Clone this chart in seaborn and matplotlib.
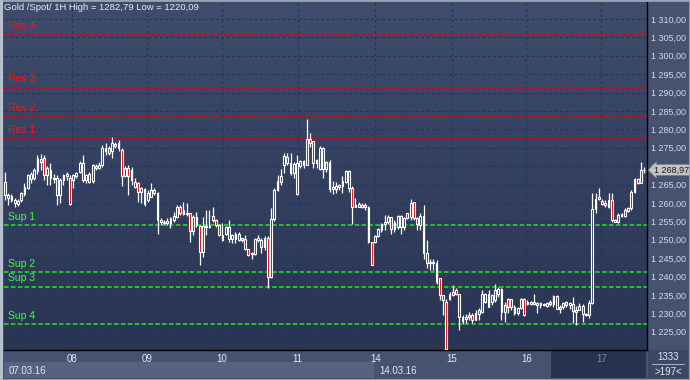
import numpy as np
import pandas as pd
import matplotlib
matplotlib.use("Agg")
import matplotlib.pyplot as plt
from matplotlib.colors import LinearSegmentedColormap
from matplotlib.patches import Rectangle
from matplotlib.ticker import FuncFormatter
import seaborn as sns

#? Hourly candles, gold spot 07.03.16 - 17.03.16
opens = [1265.8, 1261.3, 1262.0, 1260.9, 1259.6, 1260.8, 1262.4, 1264.2, 1267.8, 1266.8,
         1268.6, 1271.0, 1272.1, 1267.6, 1269.0, 1266.9, 1266.7, 1262.2, 1266.2, 1267.8,
         1266.8, 1266.3, 1267.2, 1268.5, 1270.8, 1266.2, 1268.0, 1266.0, 1269.6, 1269.6,
         1270.3, 1275.0, 1273.5, 1274.0, 1275.5, 1276.2, 1274.4, 1267.2, 1269.4, 1268.9,
         1265.8, 1265.3, 1263.1, 1263.7, 1260.8, 1261.7, 1263.5, 1262.8, 1254.9, 1254.6,
         1254.6, 1254.6, 1255.5, 1256.2, 1259.0, 1258.1, 1257.0, 1257.2, 1252.3, 1256.2,
         1253.8, 1246.8, 1253.6, 1253.6, 1256.5, 1255.4, 1254.0, 1251.3, 1251.7, 1253.6,
         1250.1, 1250.1, 1251.6, 1249.9, 1250.1, 1247.4, 1246.2, 1246.2, 1250.0, 1250.0,
         1248.0, 1250.4, 1240.0, 1255.6, 1263.6, 1265.8, 1270.3, 1272.6, 1270.8, 1268.1,
         1270.8, 1270.0, 1271.3, 1270.4, 1277.3, 1276.7, 1270.8, 1269.2, 1274.9, 1269.2,
         1271.0, 1263.8, 1263.8, 1264.9, 1264.5, 1265.6, 1264.0, 1264.0, 1259.0, 1259.0,
         1259.5, 1259.0, 1259.0, 1249.3, 1249.3, 1250.9, 1252.7, 1254.4, 1254.9, 1256.1,
         1252.8, 1253.5, 1256.4, 1253.5, 1255.8, 1256.3, 1260.3, 1255.8, 1254.0, 1256.4,
         1246.3, 1243.6, 1243.6, 1243.8, 1239.5, 1233.6, 1233.2, 1233.8, 1235.0, 1236.3,
         1235.4, 1229.1, 1228.5, 1229.1, 1229.5, 1228.3, 1229.8, 1230.4, 1233.0, 1235.4,
         1233.0, 1236.3, 1235.4, 1236.5, 1230.5, 1234.0, 1231.6, 1231.8, 1230.0, 1231.4,
         1233.8, 1233.0, 1232.6, 1232.6, 1232.9, 1232.3, 1232.3, 1232.0, 1232.6, 1232.6,
         1234.7, 1231.1, 1231.8, 1232.3, 1232.3, 1232.5, 1230.5, 1230.9, 1232.0, 1229.6,
         1229.6, 1232.7, 1258.3, 1261.0, 1260.4, 1259.9, 1259.0, 1260.8, 1255.4, 1254.7,
         1257.0, 1256.5, 1257.9, 1258.5, 1263.1, 1266.4, 1265.3, 1269.0]
highs = [1268.5, 1262.6, 1262.5, 1261.3, 1261.0, 1263.1, 1265.5, 1268.0, 1268.3, 1269.5,
         1273.0, 1273.2, 1273.0, 1270.0, 1270.8, 1267.8, 1267.6, 1266.8, 1268.0, 1268.5,
         1267.6, 1268.0, 1268.5, 1271.3, 1273.0, 1268.0, 1268.5, 1270.6, 1270.5, 1271.0,
         1275.8, 1276.2, 1275.5, 1278.0, 1276.5, 1277.0, 1274.9, 1270.0, 1270.3, 1269.9,
         1266.7, 1265.8, 1264.4, 1264.0, 1263.5, 1265.3, 1264.0, 1263.1, 1255.8, 1255.4,
         1255.8, 1256.3, 1257.6, 1259.4, 1259.4, 1260.3, 1260.0, 1257.4, 1256.8, 1257.6,
         1254.0, 1256.3, 1258.1, 1258.1, 1259.0, 1255.6, 1254.3, 1254.5, 1253.8, 1255.4,
         1251.5, 1252.2, 1252.0, 1250.6, 1251.3, 1247.6, 1246.8, 1250.6, 1251.3, 1250.4,
         1250.9, 1250.9, 1258.6, 1264.0, 1267.5, 1269.2, 1273.5, 1273.5, 1273.5, 1271.0,
         1273.0, 1271.7, 1271.7, 1282.8, 1279.1, 1276.7, 1271.9, 1275.5, 1275.3, 1271.5,
         1271.7, 1266.1, 1265.8, 1265.2, 1267.2, 1269.0, 1269.0, 1264.5, 1261.3, 1260.2,
         1260.0, 1260.0, 1259.2, 1249.5, 1251.4, 1253.3, 1254.6, 1256.7, 1256.6, 1256.3,
         1255.3, 1256.6, 1256.7, 1256.3, 1257.2, 1261.2, 1260.3, 1256.3, 1257.2, 1259.4,
         1249.9, 1244.9, 1244.9, 1244.5, 1239.5, 1235.0, 1234.0, 1235.8, 1237.7, 1236.8,
         1235.4, 1229.5, 1229.9, 1230.4, 1230.2, 1230.9, 1231.4, 1236.3, 1235.6, 1236.3,
         1235.4, 1237.9, 1237.2, 1236.8, 1233.0, 1234.1, 1234.0, 1232.3, 1231.8, 1234.1,
         1234.1, 1233.6, 1233.3, 1235.2, 1233.2, 1233.2, 1232.9, 1233.0, 1233.5, 1235.0,
         1235.0, 1232.3, 1233.2, 1233.4, 1233.2, 1234.5, 1232.0, 1232.7, 1232.5, 1230.2,
         1233.5, 1262.6, 1262.6, 1264.0, 1261.0, 1260.8, 1262.8, 1262.6, 1255.6, 1257.2,
         1257.2, 1258.5, 1258.8, 1263.4, 1266.7, 1266.7, 1271.0, 1269.7]
lows = [1260.8, 1259.5, 1260.3, 1259.0, 1259.1, 1260.3, 1262.0, 1263.8, 1265.5, 1266.2,
        1268.0, 1269.0, 1266.2, 1265.0, 1264.9, 1265.3, 1259.5, 1260.0, 1265.0, 1266.2,
        1259.4, 1264.0, 1266.8, 1268.1, 1265.8, 1265.5, 1265.3, 1265.3, 1269.0, 1269.2,
        1269.8, 1273.0, 1273.0, 1272.1, 1275.0, 1274.0, 1264.5, 1267.0, 1262.2, 1264.9,
        1264.0, 1260.3, 1259.9, 1259.2, 1260.3, 1261.5, 1262.2, 1251.7, 1254.0, 1254.2,
        1254.0, 1253.3, 1254.9, 1255.8, 1256.8, 1256.8, 1256.5, 1249.5, 1251.3, 1253.5,
        1243.2, 1245.4, 1251.3, 1253.3, 1254.9, 1253.6, 1251.0, 1249.8, 1251.3, 1249.5,
        1249.0, 1249.0, 1249.7, 1249.5, 1247.2, 1245.6, 1244.9, 1245.9, 1249.5, 1246.3,
        1247.3, 1236.8, 1239.6, 1255.2, 1263.2, 1265.0, 1268.1, 1270.4, 1267.6, 1266.7,
        1262.2, 1269.5, 1269.5, 1270.2, 1275.3, 1269.5, 1269.5, 1269.0, 1266.7, 1268.5,
        1263.1, 1262.5, 1262.7, 1263.6, 1262.7, 1265.4, 1263.1, 1254.3, 1258.8, 1258.8,
        1258.5, 1258.1, 1249.0, 1243.1, 1249.0, 1250.7, 1252.2, 1252.6, 1254.3, 1251.7,
        1252.2, 1253.0, 1251.7, 1252.6, 1255.6, 1255.3, 1255.3, 1252.6, 1252.6, 1244.9,
        1242.2, 1241.8, 1241.8, 1238.1, 1233.6, 1229.5, 1220.1, 1233.6, 1234.7, 1235.0,
        1225.6, 1227.1, 1227.3, 1228.3, 1227.5, 1228.2, 1228.2, 1230.2, 1232.8, 1231.6,
        1232.3, 1233.2, 1234.5, 1228.2, 1227.7, 1230.0, 1231.0, 1229.6, 1229.5, 1231.1,
        1229.3, 1232.2, 1232.4, 1232.4, 1230.2, 1231.4, 1232.0, 1231.7, 1232.0, 1231.8,
        1231.1, 1230.0, 1231.1, 1231.8, 1231.1, 1227.3, 1226.8, 1230.9, 1227.7, 1229.3,
        1228.7, 1232.5, 1257.2, 1260.8, 1259.5, 1259.0, 1258.6, 1254.9, 1254.7, 1254.5,
        1256.3, 1256.3, 1257.5, 1258.1, 1262.6, 1265.2, 1265.3, 1268.2]
closes = [1262.2, 1262.2, 1260.8, 1260.0, 1260.6, 1262.6, 1264.4, 1267.5, 1266.6, 1269.0,
          1272.1, 1272.0, 1267.6, 1269.4, 1266.7, 1266.4, 1262.2, 1266.3, 1267.6, 1267.2,
          1259.6, 1267.6, 1268.1, 1270.8, 1266.3, 1267.6, 1265.8, 1270.3, 1270.0, 1270.4,
          1274.9, 1274.0, 1274.8, 1276.2, 1276.0, 1274.9, 1267.2, 1269.4, 1267.2, 1266.2,
          1264.4, 1263.1, 1264.0, 1259.7, 1262.6, 1263.5, 1262.6, 1255.5, 1255.4, 1254.9,
          1255.0, 1256.0, 1256.5, 1259.0, 1257.2, 1257.0, 1257.4, 1252.3, 1256.2, 1254.0,
          1246.8, 1253.8, 1253.8, 1253.8, 1255.4, 1254.0, 1251.3, 1249.9, 1253.5, 1250.1,
          1251.3, 1251.6, 1249.9, 1250.4, 1247.4, 1245.9, 1246.4, 1250.1, 1250.4, 1248.0,
          1250.4, 1240.0, 1255.6, 1263.6, 1266.0, 1267.4, 1272.8, 1270.8, 1268.1, 1270.6,
          1262.4, 1271.3, 1270.4, 1277.3, 1276.2, 1270.8, 1271.7, 1274.9, 1269.2, 1271.0,
          1263.8, 1264.3, 1264.7, 1264.3, 1265.9, 1268.6, 1268.6, 1259.0, 1259.5, 1259.7,
          1259.0, 1259.5, 1249.3, 1243.1, 1251.1, 1253.0, 1254.4, 1254.7, 1256.3, 1252.8,
          1254.9, 1256.4, 1253.5, 1255.8, 1257.2, 1259.9, 1255.8, 1254.4, 1256.4, 1246.3,
          1243.6, 1244.0, 1244.0, 1238.6, 1235.0, 1235.0, 1220.2, 1235.2, 1235.9, 1235.4,
          1228.9, 1228.0, 1229.1, 1229.5, 1228.3, 1230.0, 1230.9, 1235.4, 1235.4, 1231.8,
          1234.9, 1233.6, 1236.5, 1230.5, 1232.3, 1231.6, 1234.0, 1230.0, 1231.4, 1233.8,
          1229.6, 1232.6, 1233.0, 1233.0, 1232.3, 1232.8, 1232.6, 1232.8, 1233.2, 1234.7,
          1231.1, 1231.8, 1232.7, 1233.2, 1232.8, 1230.7, 1230.9, 1232.0, 1229.8, 1229.8,
          1232.7, 1258.3, 1261.0, 1261.7, 1259.8, 1259.5, 1260.8, 1255.4, 1254.9, 1256.7,
          1256.5, 1258.1, 1258.5, 1263.1, 1266.4, 1265.3, 1269.0, 1268.97]

#? x axis: midnight positions (candle index) and labels
day_labels = ["08", "09", "10", "11", "14", "15", "16", "17"]
day_pos = [20.55, 43.65, 66.8, 90.2, 114.1, 137.65, 160.7, 183.8]
week_labels = ["07.03.16", "14.03.16"]

#? support / resistance levels
res_names = ["Res 4", "Res 3", "Res 2", "Res 1"]
res_levels = [1305.7, 1291.3, 1283.6, 1277.6]
sup_names = ["Sup 1", "Sup 2", "Sup 3", "Sup 4"]
sup_levels = [1253.9, 1241.2, 1237.3, 1227.0]

price_ticks = list(range(1225, 1315, 5))
last_price = 1268.97


def fmt_price(v, pos=None):
    return f"{v:,.2f}".replace(",", " ").replace(".", ",")


#! Style
sns.set_theme(style="dark", rc={"axes.facecolor": "#34405f", "figure.facecolor": "#46526f"})
plt.rcParams["font.family"] = ["Liberation Sans", "DejaVu Sans"]

W, H = 690, 380
fig = plt.figure(figsize=(W / 100, H / 100), dpi=100)
# plot area in pixels: x 4..647, y 2..350
ax = fig.add_axes([4 / W, (H - 350) / H, 643 / W, 348 / H])

xmin, xmax = (4 - 5) / 3.245, (647 - 5) / 3.245
ymin, ymax = 1220.05, 1314.6

#? background gradient
cmap = LinearSegmentedColormap.from_list("bg", ["#2a3453", "#3f4c6c"])
ax.imshow(np.linspace(0, 1, 256)[:, None], extent=(xmin, xmax, ymin, ymax), origin="lower",
          aspect="auto", cmap=cmap, zorder=0)

#? grid
ax.set_xticks(day_pos)
ax.set_xticklabels(day_labels)
ax.set_yticks(price_ticks)
ax.grid(True, color="#1c3766", linestyle=(0, (2.5, 2.5)), linewidth=0.8)
ax.set_axisbelow(True)

#? support / resistance lines
line_kw = dict(lw=1.1, ls=(0, (3, 1.5)), zorder=2)
for name, lvl in zip(res_names, res_levels):
    ax.axhline(lvl, color="#e80000", **line_kw)
    ax.annotate(name, (0.006, lvl), xycoords=("axes fraction", "data"), xytext=(0, 2.5),
                textcoords="offset points", color="#ff1010", fontsize=7.5, va="bottom")
for name, lvl in zip(sup_names, sup_levels):
    ax.axhline(lvl, color="#22e622", **line_kw)
    ax.annotate(name, (0.006, lvl), xycoords=("axes fraction", "data"), xytext=(0, 2.5),
                textcoords="offset points", color="#3cff3c", fontsize=7.5, va="bottom")

#? candles
df = pd.DataFrame({"open": opens, "high": highs, "low": lows, "close": closes})
df["x"] = np.arange(len(df))
up = df["close"] >= df["open"]
body_lo = df[["open", "close"]].min(axis=1)
body_h = (df["close"] - df["open"]).abs()
ax.vlines(df["x"], df["low"], df["high"], color="white", lw=0.9, zorder=3)
ax.bar(df["x"], body_h, bottom=body_lo, width=0.55,
       color=np.where(up, "#34405f", "#e00000"), edgecolor="white", linewidth=0.8, zorder=4)

ax.set_xlim(xmin, xmax)
ax.set_ylim(ymin, ymax)

#? axes
ax.yaxis.tick_right()
ax.yaxis.set_major_formatter(FuncFormatter(fmt_price))
ax.tick_params(axis="y", length=0, pad=3, labelsize=6.5, labelcolor="#d4dbe8")
ax.tick_params(axis="x", length=0, pad=3, labelsize=7, labelcolor="#e4e8f0")
ax.get_xticklabels()[-1].set_color("#7f8ba3")
for side in ["top", "left"]:
    ax.spines[side].set_visible(False)
for side in ["right", "bottom"]:
    ax.spines[side].set_visible(True)
    ax.spines[side].set_color("black")
    ax.spines[side].set_linewidth(1)

ax.text(0.0, 0.997, "Gold /Spot/ 1H High = 1282,79 Low = 1220,09", transform=ax.transAxes,
        color="#e8ecf4", fontsize=6.8, va="top", ha="left")

#? last price tag
ax.annotate(fmt_price(last_price), (1.0, last_price),
            xycoords=("axes fraction", "data"), xytext=(5, 0), textcoords="offset points",
            va="center", ha="left", fontsize=6.5, color="#1a1a1a", zorder=6,
            bbox=dict(boxstyle="larrow,pad=0.12", fc="#c4c4c4", ec="#7a7a7a", lw=0.6))

#? bottom band: week boxes (behind the axes)
fig.add_artist(Rectangle((4 / W, 2 / H), (374 - 4) / W, 16 / H, transform=fig.transFigure,
                         fc="#56627f", ec="none", zorder=-1))
fig.add_artist(Rectangle((551 / W, 2 / H), (646 - 551) / W, 28 / H, transform=fig.transFigure,
                         fc="#28324e", ec="none", zorder=-1))
fig.text(9 / W, (H - 371) / H, week_labels[0], color="#e4e8f0", fontsize=7, va="center")
fig.text(379 / W, (H - 371) / H, week_labels[1], color="#e4e8f0", fontsize=7, va="center")

#? right bottom box
fig.add_artist(Rectangle((648 / W, 2 / H), 40 / W, 28 / H, transform=fig.transFigure,
                         fc="#3c4866", ec="none", zorder=-1))
fig.text(668 / W, (H - 357) / H, "1333", color="#e4e8f0", fontsize=7, ha="center", va="center")
fig.add_artist(plt.Line2D([652 / W, 684 / W], [(H - 364) / H] * 2, color="#c0c8d8", lw=0.6))
fig.text(668 / W, (H - 372) / H, ">197<", color="#e4e8f0", fontsize=7, ha="center", va="center")

#? frame
fig.add_artist(Rectangle((0, 0), 1, 1, transform=fig.transFigure, fill=False, ec="#9aa3b5", lw=2))
fig.add_artist(Rectangle((0, 0), 3.5 / W, 1, transform=fig.transFigure, fc="#b8bfcc", ec="none"))

fig.savefig("out.png", dpi=100)
